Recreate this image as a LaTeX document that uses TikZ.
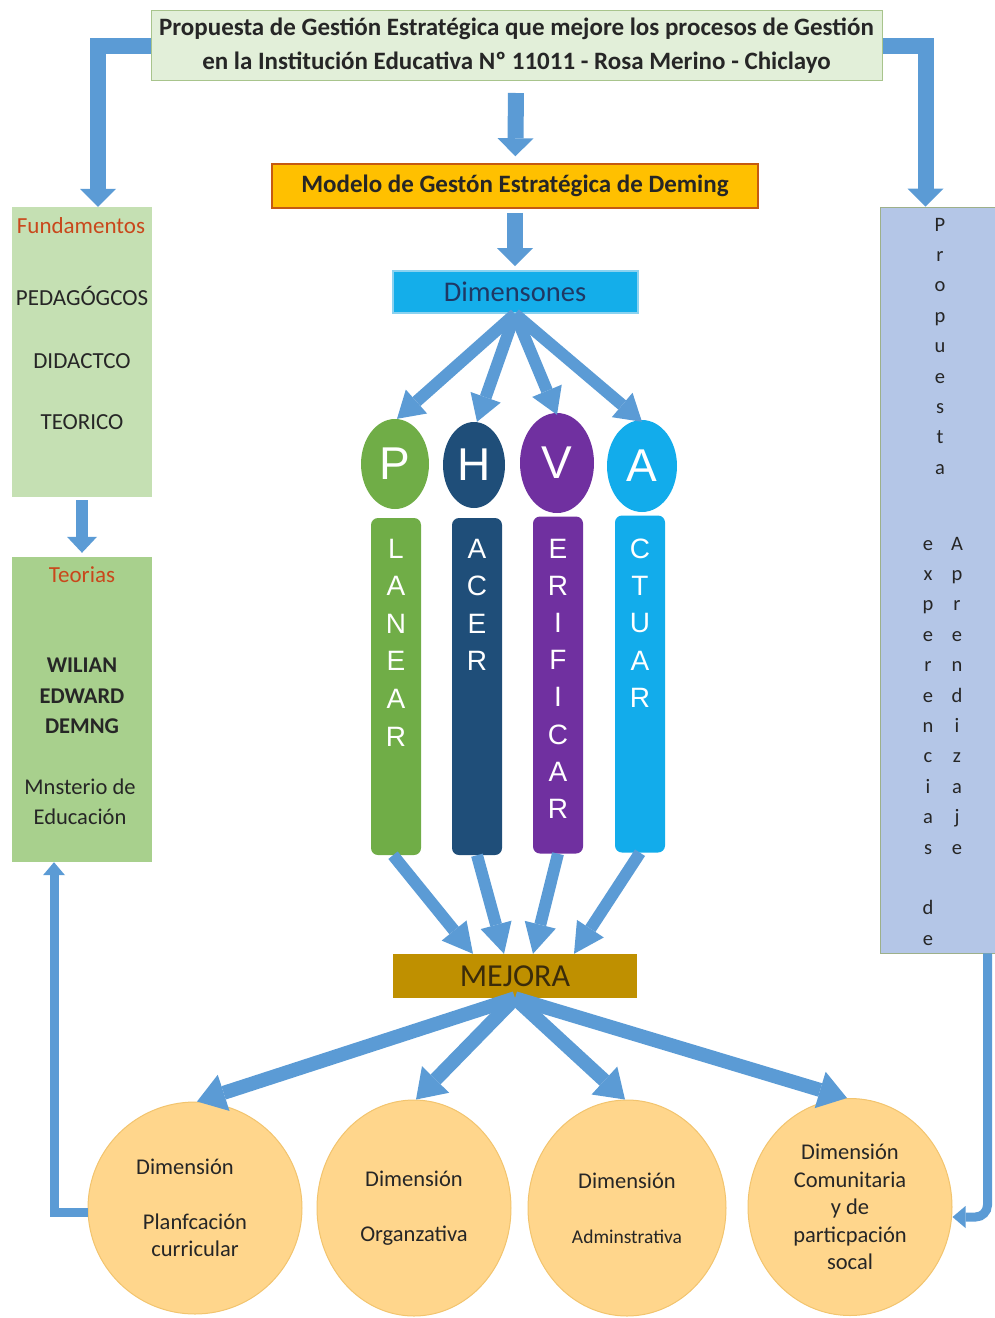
\documentclass[tikz,border=0pt]{standalone}
\usepackage{fontspec}
\setmainfont{Carlito}
\newfontfamily\arialf{Liberation Sans}
\usetikzlibrary{arrows.meta,shapes.geometric,calc}
\definecolor{ablue}{HTML}{5B9BD5}
\definecolor{topfill}{HTML}{E2EFD9}
\definecolor{topdraw}{HTML}{A8C48C}
\definecolor{fundfill}{HTML}{C5E0B3}
\definecolor{teofill}{HTML}{A8D08D}
\definecolor{propfill}{HTML}{B4C6E7}
\definecolor{propdraw}{HTML}{9DB08A}
\definecolor{orfill}{HTML}{FFC000}
\definecolor{ordraw}{HTML}{C55A11}
\definecolor{dimfill}{HTML}{14AEEA}
\definecolor{dimdraw}{HTML}{8AD2F0}
\definecolor{dimtext}{HTML}{1F3864}
\definecolor{mejfill}{HTML}{BF9000}
\definecolor{mejtext}{HTML}{3B2C0A}
\definecolor{ellfill}{HTML}{FFD68C}
\definecolor{elldraw}{HTML}{F2C46E}
\definecolor{redtext}{HTML}{C9471B}
\definecolor{pcol}{HTML}{70AD47}
\definecolor{hcol}{HTML}{1F4E79}
\definecolor{vcol}{HTML}{7030A0}
\definecolor{acol}{HTML}{12ACEB}
\definecolor{darktext}{HTML}{262626}
\begin{document}
\begin{tikzpicture}[x=1pt,y=-1pt,
  bigarrow/.style={draw=ablue, line width=16pt, line join=miter, -{Triangle[width=36pt,length=18pt,line width=0pt]}},
  dimarrow/.style={draw=ablue, line width=12pt, -{Triangle[width=32pt,length=26pt,line width=0pt]}},
  lowarrow/.style={draw=ablue, line width=12pt, -{Triangle[width=32pt,length=30pt,line width=0pt]}},
  ellarrow/.style={draw=ablue, line width=14pt, -{Triangle[width=38pt,length=28pt,line width=0pt]}},
  smallarrow/.style={draw=ablue, line width=12pt, -{Triangle[width=30pt,length=16pt,line width=0pt]}},
  thinarrow/.style={draw=ablue, line width=9pt, line join=miter, -{Triangle[width=22pt,length=13pt,line width=0pt]}},
  sidebox/.style={rectangle, minimum width=140pt, inner sep=0pt},
  lbl/.style={font=\fontsize{23}{27}\selectfont, text=darktext, inner sep=0pt},
  redlbl/.style={font=\fontsize{23}{27}\selectfont, text=redtext, inner sep=0pt},
  boldlbl/.style={font=\bfseries\fontsize{22.5}{30.5}\selectfont, text=darktext, inner sep=0pt, align=center},
  pdot/.style={ellipse, minimum width=68pt, minimum height=90pt, inner sep=0pt, text=white, font=\arialf\fontsize{46}{46}\selectfont},
  bar/.style={rectangle, rounded corners=7pt, minimum width=50pt, minimum height=337pt, inner sep=0pt},
  barletter/.style={text=white, font=\arialf\fontsize{28}{28}\selectfont, inner sep=0pt, anchor=base},
  rletter/.style={text=darktext, font=\fontsize{20.5}{20}\selectfont, inner sep=0pt, anchor=base},
  dimell/.style={ellipse, fill=ellfill, draw=elldraw, line width=1pt, inner sep=0pt, align=center, text=darktext, font=\fontsize{22.5}{27}\selectfont}
]
\useasboundingbox (0,0) rectangle (995,1318);
\clip (0,0) rectangle (995,1318);

% ---------- top box ----------
\node[rectangle, fill=topfill, draw=topdraw, line width=1pt, minimum width=731pt, minimum height=70pt, inner sep=0pt,
      align=center, font=\bfseries\fontsize{25}{34}\selectfont, text=darktext] (top) at (516.5,45.5)
  {Propuesta de Gestión Estratégica que mejore los procesos de Gestión\\en la Institución Educativa Nº 11011 - Rosa Merino - Chiclayo};

% ---------- Deming model ----------
\node[rectangle, fill=orfill, draw=ordraw, line width=1.5pt, minimum width=486pt, minimum height=44pt, inner sep=0pt,
      font=\bfseries\fontsize{25}{28}\selectfont, text=darktext] (modelo) at (515,186)
  {Modelo de Gestón Estratégica de Deming};

\node[rectangle, fill=dimfill, draw=dimdraw, line width=2pt, minimum width=245pt, minimum height=42pt, inner sep=0pt,
      font=\fontsize{28.5}{30}\selectfont, text=dimtext] (dims) at (515,292) {Dimensones};

% ---------- PHVA ----------
\node[pdot, fill=pcol] (pc) at (395,464) {P};
\node[pdot, fill=hcol, minimum width=62pt, minimum height=86pt] (hc) at (474,465) {H};
\node[pdot, fill=vcol, minimum width=74pt, minimum height=100pt] (vc) at (557,463) {V};
\node[pdot, fill=acol, minimum width=70pt, minimum height=92pt] (ac) at (642,466) {A};

\node[bar, fill=pcol] (pb) at (396,686.5) {};
\node[bar, fill=hcol] (hb) at (477,686.5) {};
\node[bar, fill=vcol] (vb) at (558,685) {};
\node[bar, fill=acol] (ab) at (640,684) {};

\foreach \l [count=\i from 0] in {L,A,N,E,A,R}
  \node[barletter] (pl\i) at (396,{558+37.6*\i}) {\l};
\foreach \l [count=\i from 0] in {A,C,E,R}
  \node[barletter] (hl\i) at (477,{558+37.6*\i}) {\l};
\foreach \l [count=\i from 0] in {E,R,I,F,I,C,A,R}
  \node[barletter] (vl\i) at (558,{558+37.2*\i}) {\l};
\foreach \l [count=\i from 0] in {C,T,U,A,R}
  \node[barletter] (al\i) at (640,{558+37.4*\i}) {\l};

% ---------- MEJORA ----------
\node[rectangle, fill=mejfill, minimum width=244pt, minimum height=44pt, inner sep=0pt,
      font=\fontsize{32}{34}\selectfont, text=mejtext] (mej) at (515,976) {MEJORA};

% ---------- left boxes ----------
\node[sidebox, fill=fundfill, minimum height=290pt] (fund) at (82,352) {};
\node[redlbl] (fundt) at (81,226) {Fundamentos};
\node[lbl] (ped) at (82,296) {PEDAGÓGCOS};
\node[lbl] (did) at (82,361) {DIDACTCO};
\node[lbl] (teoric) at (82,422) {TEORICO};

\node[sidebox, fill=teofill, minimum height=305pt] (teo) at (82,709.5) {};
\node[redlbl] (teot) at (82,575) {Teorias};
\node[boldlbl] (deming) at (82,696) {WILIAN\\EDWARD\\DEMNG};
\node[lbl, align=center, font=\fontsize{22.5}{30.5}\selectfont] (minedu) at (80,802) {Mnsterio de\\Educación};

% ---------- right box ----------
\node[rectangle, fill=propfill, draw=propdraw, line width=0.8pt, minimum width=125pt, minimum height=746pt, inner sep=0pt] (prop) at (942.5,580) {};
\foreach \l [count=\i from 0] in {P,r,o,p,u,e,s,t,a}
  \node[rletter] (ra\i) at (940,{231+30.4*\i}) {\l};
\foreach \l [count=\i from 0] in {e,x,p,e,r,e,n,c,i,a,s}
  \node[rletter] (rb\i) at (928,{550+30.4*\i}) {\l};
\node[rletter] (rbd) at (928,{550+30.4*12}) {d};
\node[rletter] (rbe) at (928,{550+30.4*13}) {e};
\foreach \l [count=\i from 0] in {A,p,r,e,n,d,i,z,a,j,e}
  \node[rletter] (rc\i) at (957,{550+30.4*\i}) {\l};

% ---------- bottom ellipses ----------
\node[dimell, minimum width=214pt, minimum height=212pt] (e1) at (195,1208)
  {Dimensión\hspace*{20pt}\\[28pt]Planfcación\\curricular};
\node[dimell, minimum width=194pt, minimum height=216pt] (e2) at (414,1208)
  {Dimensión\\[28pt]Organzativa};
\node[dimell, minimum width=198pt, minimum height=216pt] (e3) at (627,1208)
  {Dimensión\\[28pt]{\fontsize{19.5}{22}\selectfont Adminstrativa}};
\node[dimell, minimum width=204pt, minimum height=217pt, font=\fontsize{22.5}{27.5}\selectfont] (e4) at (850,1207)
  {Dimensión\\Comunitaria\\y de\\particpación\\socal};

% ---------- connectors ----------
\draw[bigarrow] (top.west) -| ([xshift=16pt]fund.north);
\draw[bigarrow] (top.east) -| ([xshift=-17pt]prop.north);
\draw[bigarrow, shorten <=12pt, shorten >=7pt] (top) -- (modelo);
\draw[bigarrow, shorten <=4pt, shorten >=4pt] (modelo) -- (dims);

\draw[dimarrow] (dims.south) -- ([xshift=2pt]pc.north);
\draw[dimarrow] (dims.south) -- ([xshift=3pt]hc.north);
\draw[dimarrow] (dims.south) -- ([yshift=-2pt]vc.north);
\draw[dimarrow] (dims.south) -- ([yshift=-2pt]ac.north);

\draw[lowarrow] ([xshift=-3pt]pb.south) -- ([xshift=-42pt]mej.north);
\draw[lowarrow] (hb.south) -- ([xshift=-11pt]mej.north);
\draw[lowarrow] (vb.south) -- ([xshift=18pt]mej.north);
\draw[lowarrow] (ab.south) -- ([xshift=59pt]mej.north);

\draw[ellarrow] (mej.south) -- ([xshift=2pt]e1.north);
\draw[ellarrow] (mej.south) -- ([xshift=2pt]e2.north);
\draw[ellarrow] (mej.south) -- ([xshift=-2pt]e3.north);
\draw[ellarrow] (mej.south) -- ([xshift=-3pt]e4.north);

\draw[smallarrow, shorten <=3pt, shorten >=4pt] (fund.south) -- (teo.north);

\draw[thinarrow] ([yshift=-4pt]e1.west) -| ([xshift=-28pt]teo.south);
\draw[thinarrow, rounded corners=12pt] ([xshift=45pt]prop.south) |- ([yshift=-10pt]e4.east);
\end{tikzpicture}
\end{document}
